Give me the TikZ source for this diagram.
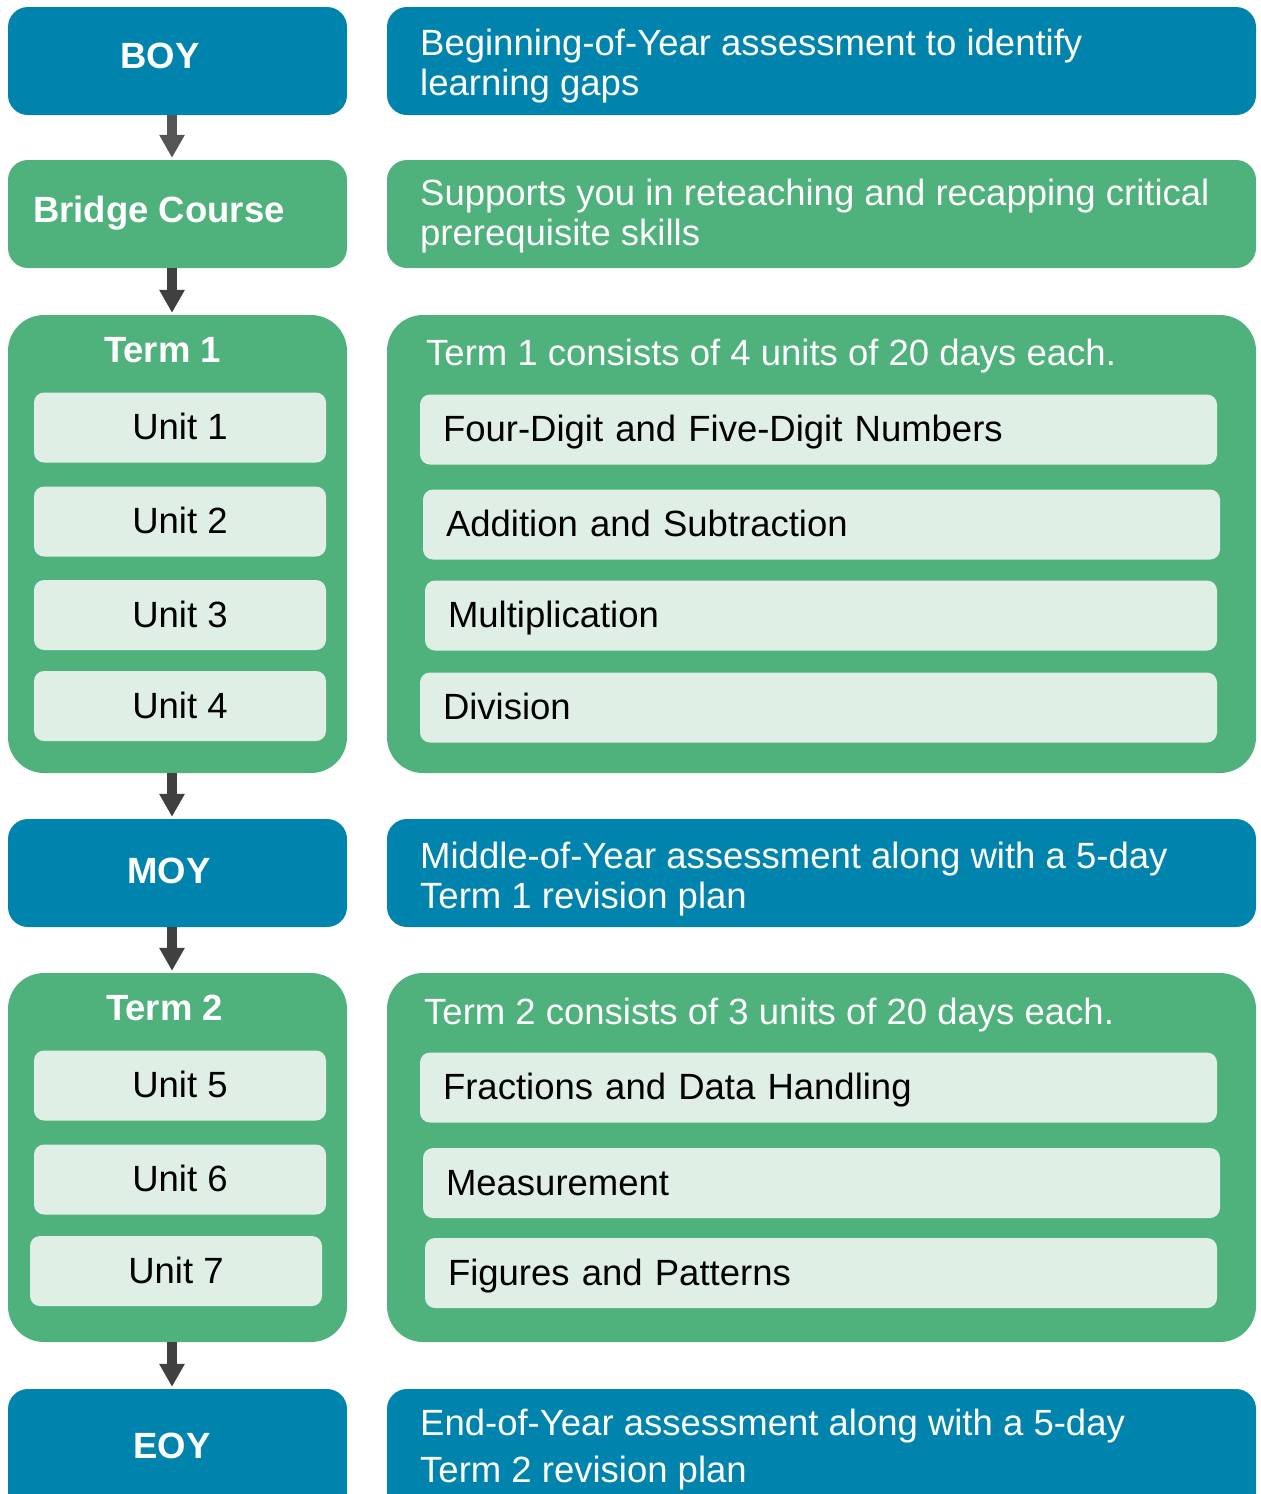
\documentclass[tikz,border=0pt]{standalone}
\usepackage{fontspec}
\setmainfont{Liberation Sans}
\usetikzlibrary{arrows.meta}
\definecolor{cblue}{HTML}{0084AE}
\definecolor{cgreen}{HTML}{4FB17B}
\definecolor{clight}{HTML}{DFEFE5}
\definecolor{carrow}{HTML}{404040}
\definecolor{carrowa}{HTML}{555555}
\newcommand\myfs{\fontsize{36.5}{40}\selectfont}
\newcommand\myfsb{\fontsize{36.5}{47}\selectfont}
\begin{document}
\begin{tikzpicture}[x=1pt,y=-1pt,
  blk/.style={rounded corners=20pt, inner sep=0pt, minimum width=#1, minimum height=108pt},
  blue/.style={blk=#1, fill=cblue},
  green/.style={blk=#1, fill=cgreen},
  termbox/.style={fill=cgreen, rounded corners=36pt, inner sep=0pt, minimum width=#1},
  unitbox/.style={fill=clight, rounded corners=10pt, inner sep=0pt, minimum width=292pt,
    minimum height=70pt, font=\myfs, text height=24pt, text depth=0pt},
  topic/.style={fill=clight, rounded corners=10pt, inner xsep=23pt, inner ysep=0pt,
    text width=#1, align=left, minimum height=70pt, font=\myfs, text height=24pt, text depth=0pt},
  lbl/.style={text=white, font=\bfseries\myfs, inner sep=0pt},
  dtext/.style={text=white, font=\myfs, align=left, inner sep=0pt},
  arr/.style={draw=carrow, line width=10pt, -{Triangle[width=24pt,length=23pt]}},
]
\useasboundingbox (0,0) rectangle (1261,1494);
\clip (0,0) rectangle (1261,1494);

% BOY row
\node[blue=339pt] (boy) at (177.5,61) {};
\node[blue=869pt] (boyd) at (821.5,61) {};
\node[lbl, anchor=base] (boyl) at (160,68) {BOY};
\node[dtext, anchor=base west] (boyt) at (420,95) {Beginning-of-Year assessment to identify\\learning gaps};

% Bridge row
\node[green=339pt] (bridge) at (177.5,214) {};
\node[green=869pt] (bridged) at (821.5,214) {};
\node[lbl, anchor=base west] (bridgel) at (33,222) {Bridge Course};
\node[dtext, anchor=base west] (bridget) at (420,245) {Supports you in reteaching and recapping critical\\prerequisite skills};

% Term 1
\node[termbox=339pt, minimum height=458pt] (term1) at (177.5,544) {};
\node[termbox=869pt, minimum height=458pt] (term1d) at (821.5,544) {};
\node[lbl, anchor=base] (term1l) at (162.5,362) {Term 1};
\node[dtext, anchor=base west] (term1t) at (426,365) {Term 1 consists of 4 units of 20 days each.};
\node[unitbox] (u1) at (180,427.5) {Unit 1};
\node[unitbox] (u2) at (180,521.5) {Unit 2};
\node[unitbox] (u3) at (180,615) {Unit 3};
\node[unitbox] (u4) at (180,706) {Unit 4};
\node[topic=751pt] (t1a) at (818.5,429.5) {Four-Digit and Five-Digit Numbers};
\node[topic=751pt] (t1b) at (821.5,524.5) {Addition and Subtraction};
\node[topic=746pt] (t1c) at (821,615.5) {Multiplication};
\node[topic=751pt] (t1d) at (818.5,707.5) {Division};

% MOY
\node[blue=339pt] (moy) at (177.5,873) {};
\node[blue=869pt] (moyd) at (821.5,873) {};
\node[lbl, anchor=base] (moyl) at (169,883) {MOY};
\node[dtext, anchor=base west] (moyt) at (420,908) {Middle-of-Year assessment along with a 5-day\\Term 1 revision plan};

% Term 2
\node[termbox=339pt, minimum height=369pt] (term2) at (177.5,1157.5) {};
\node[termbox=869pt, minimum height=369pt] (term2d) at (821.5,1157.5) {};
\node[lbl, anchor=base] (term2l) at (164.5,1020) {Term 2};
\node[dtext, anchor=base west] (term2t) at (424,1024) {Term 2 consists of 3 units of 20 days each.};
\node[unitbox] (u5) at (180,1085.5) {Unit 5};
\node[unitbox] (u6) at (180,1179.5) {Unit 6};
\node[unitbox] (u7) at (176,1271) {Unit 7};
\node[topic=751pt] (t2a) at (818.5,1087.5) {Fractions and Data Handling};
\node[topic=751pt] (t2b) at (821.5,1183) {Measurement};
\node[topic=746pt] (t2c) at (821,1273) {Figures and Patterns};

% EOY
\node[blue=339pt, minimum height=130pt] (eoy) at (177.5,1454) {};
\node[blue=869pt, minimum height=130pt] (eoyd) at (821.5,1454) {};
\node[lbl, anchor=base] (eoyl) at (172,1458) {EOY};
\node[dtext, font=\myfsb, anchor=base west] (eoyt) at (420,1482) {End-of-Year assessment along with a 5-day\\Term 2 revision plan};

% arrows
\draw[arr, draw=carrowa] ([xshift=-5.5pt]boy.south) -- ([xshift=-5.5pt,yshift=2pt]bridge.north);
\draw[arr] ([xshift=-5.5pt]bridge.south) -- ([xshift=-5.5pt,yshift=2pt]term1.north);
\draw[arr] ([xshift=-5.5pt]term1.south) -- ([xshift=-5.5pt,yshift=2pt]moy.north);
\draw[arr] ([xshift=-5.5pt]moy.south) -- ([xshift=-5.5pt,yshift=2pt]term2.north);
\draw[arr] ([xshift=-5.5pt]term2.south) -- ([xshift=-5.5pt,yshift=2pt]eoy.north);
\end{tikzpicture}
\end{document}
